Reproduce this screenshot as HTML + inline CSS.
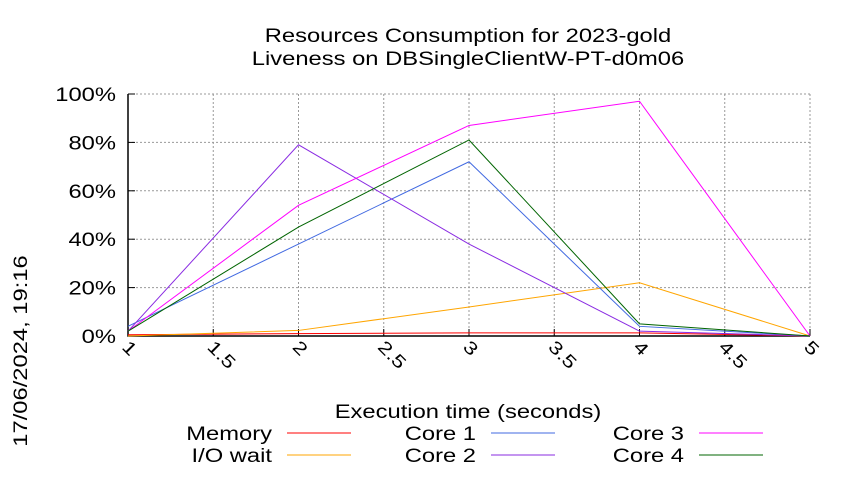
<!DOCTYPE html>
<html><head><meta charset="utf-8"><style>
body{margin:0;background:#fff;}
svg text{font-family:"Liberation Sans",sans-serif;fill:#000;}
</style></head><body>
<svg id="chart" width="850" height="475" xmlns="http://www.w3.org/2000/svg">
<text transform="translate(468,42) scale(1.25,1)" font-size="19" text-anchor="middle">Resources Consumption for 2023-gold</text>
<text transform="translate(468,65) scale(1.25,1)" font-size="19" text-anchor="middle">Liveness on DBSingleClientW-PT-d0m06</text>
<text transform="translate(27,351) rotate(-90) scale(1.25,1)" font-size="19" text-anchor="middle">17/06/2024, 19:16</text>
<text transform="translate(468,418) scale(1.25,1)" font-size="19" text-anchor="middle">Execution time (seconds)</text>
<g id="grid"></g><g id="series"></g><g id="legend"></g>
</svg>
<script>
const xTicks=[1,1.5,2,2.5,3,3.5,4,4.5,5];
const xTickLabels=["1","1.5","2","2.5","3","3.5","4","4.5","5"];
const yTicks=[0,20,40,60,80,100];
const yTickLabels=["0%","20%","40%","60%","80%","100%"];
const times=[1,2,3,4,5];
const memory=[0.5,1,1.3,1.3,0];
const ioWait=[0,2.3,12,22,0];
const core1=[4,38,72,4,0];
const core2=[2,79,38,2,0];
const core3=[2,54,87,97,0];
const core4=[2,45,81,5,0];
const seriesNames=["Memory","I/O wait","Core 1","Core 2","Core 3","Core 4"];
const seriesData=[memory,ioWait,core1,core2,core3,core4];
const colors=["#ff0000","#ffa500","#4169e1","#8a2be2","#ff00ff","#006400"];
const X0=128,X1=810,Y0=336,Y1=94;
const sx=v=>X0+(v-1)/(5-1)*(X1-X0);
const sy=v=>Y0-v/100*(Y0-Y1);
const NS="http://www.w3.org/2000/svg";
function mk(t,a,p){const e=document.createElementNS(NS,t);for(const k in a)e.setAttribute(k,a[k]);p.appendChild(e);return e;}
const g=document.getElementById('grid');
xTicks.forEach((v,i)=>{
 const l=mk('line',{x1:sx(v),x2:sx(v),y1:Y1,y2:Y0,stroke:'#999','stroke-dasharray':'2,2','stroke-width':1},g);
 
 
 const tk=mk('line',{x1:sx(v),x2:sx(v),y1:Y0,y2:Y0-7,stroke:'#000','stroke-width':1},g);
 
 
 const t=mk('text',{transform:`translate(${sx(v)-7},${Y0+12}) rotate(45) scale(1.25,1)`,'font-size':18},g);
 t.textContent=xTickLabels[i];
 
 
});
yTicks.forEach((v,i)=>{
 const l=mk('line',{x1:X0,x2:X1,y1:sy(v),y2:sy(v),stroke:'#999','stroke-dasharray':'2,2','stroke-width':1},g);
 
 
 const tk=mk('line',{x1:X0,x2:X0+7,y1:sy(v),y2:sy(v),stroke:'#000','stroke-width':1},g);
 
 
 const t=mk('text',{transform:`translate(${X0-12},${sy(v)+7}) scale(1.25,1)`,'font-size':19,'text-anchor':'end'},g);
 t.textContent=yTickLabels[i];
 
 
});
const ax=mk('polyline',{points:`${X0},${Y1} ${X0},${Y0} ${X1},${Y0}`,fill:'none',stroke:'#000','stroke-width':1.5},g);


const s=document.getElementById('series');
seriesData.forEach((d,i)=>{
 const p=mk('polyline',{points:d.map((v,j)=>sx(times[j])+','+sy(v)).join(' '),fill:'none',stroke:colors[i],'stroke-width':1},s);
 
 
});
const lg=document.getElementById('legend');
const lx=[272,476,684],ly=[433,455];
seriesNames.forEach((n,i)=>{
 const c=Math.floor(i/2),r=i%2;
 const t=mk('text',{transform:`translate(${lx[c]},${ly[r]+7}) scale(1.25,1)`,'font-size':19,'text-anchor':'end'},lg);
 t.textContent=n;
 
 
 const l=mk('line',{x1:lx[c]+15,x2:lx[c]+79,y1:ly[r],y2:ly[r],stroke:colors[i],'stroke-width':1},lg);
 
 
});
</script>
</body></html>
